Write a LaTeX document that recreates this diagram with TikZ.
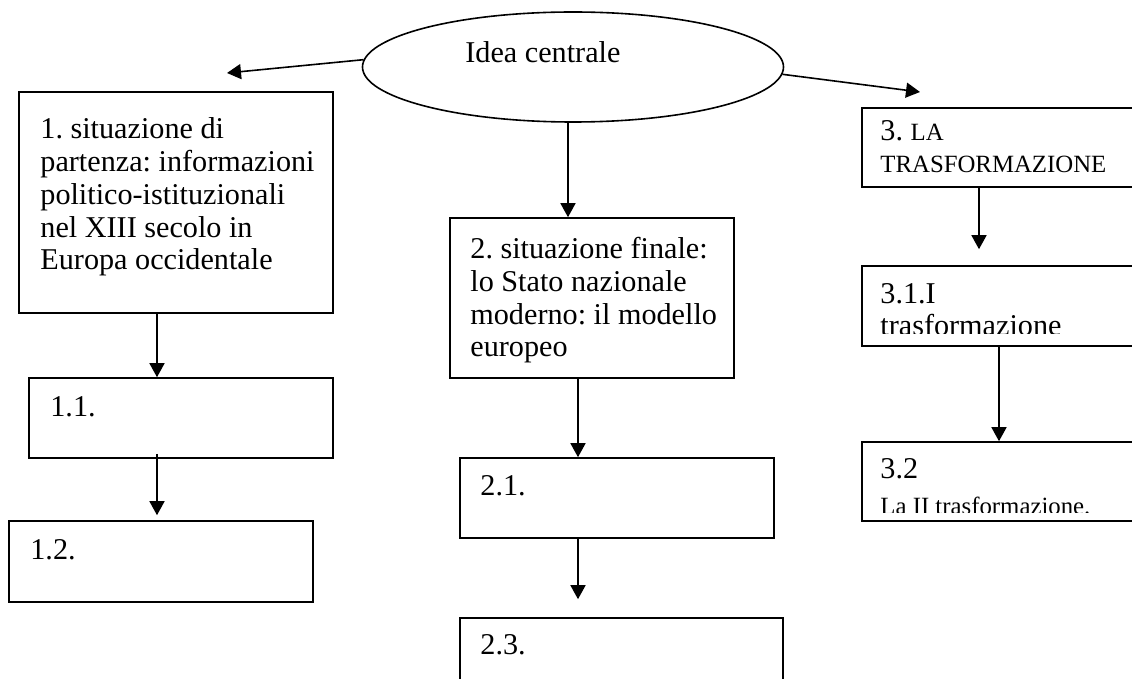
\documentclass[tikz,border=0pt]{standalone}
\usepackage{fontspec}
\setmainfont{Liberation Serif}
\usetikzlibrary{arrows.meta,shapes.geometric}
\frenchspacing

\tikzset{
  box/.style={draw, line width=0.8pt, inner sep=0pt},
  txt/.style={anchor=base west, align=left, inner sep=0pt, font=\fontsize{15.1}{16.4}\selectfont},
  arr/.style={line width=0.8pt, -{Triangle[length=7pt,width=7.5pt]}}
}
\newcommand{\smalltxt}{\fontsize{12.4}{15}\selectfont}

\begin{document}
\begin{tikzpicture}[x=0.5pt,y=-0.5pt]

\clip (0,0) rectangle (1132,679);
\fill[white] (0,0) rectangle (1132,679);

% idea centrale
\node[box, ellipse, minimum width=210.5pt, minimum height=55pt] (idea) at (573,67) {};
\node[txt] (ideat) at (465,63) {Idea centrale};

\coordinate (sx) at (227,73);
\coordinate (dx) at (920,92);

% colonna 1
\node[box, minimum width=157pt, minimum height=110.5pt] (s1) at (176,202.5) {};
\node[box, minimum width=152pt, minimum height=40pt] (s11) at (181,418) {};
\node[box, minimum width=152pt, minimum height=40.5pt] (s12) at (161,561.5) {};

\node[txt] (s1t) at (40,270) {1. situazione di\\partenza: informazioni\\politico-istituzionali\\nel XIII secolo in\\Europa occidentale};
\node[txt] (s11t) at (50,417) {1.1.};
\node[txt] (s12t) at (30,560) {1.2.};

% colonna 2
\node[box, minimum width=142pt, minimum height=80pt] (s2) at (592,298) {};
\node[box, minimum width=157pt, minimum height=40pt] (s21) at (617,498) {};
\node[box, minimum width=161.5pt, minimum height=40pt] (s23) at (621.5,658) {};

\node[txt] (s2t) at (470,357) {2. situazione finale:\\lo Stato nazionale\\moderno: il modello\\europeo};
\node[txt] (s21t) at (480,496) {2.1.};
\node[txt] (s23t) at (480,655) {2.3.};

% colonna 3
\node[box, minimum width=157pt, minimum height=39.5pt] (s3) at (1019,147.5) {};
\node[box, minimum width=157pt, minimum height=40pt] (s31) at (1019,306) {};
\node[box, minimum width=157pt, minimum height=39.5pt] (s32) at (1019,481.5) {};

\node[txt] (s3t) at (880,173) {3. {\smalltxt LA}\\{\smalltxt TRASFORMAZIONE}};
\begin{scope}
\clip (862,266) rectangle (1132,334);
\node[txt] (s31t) at (880,336) {3.1.I\\trasformazione};
\end{scope}
\begin{scope}
\clip (862,442) rectangle (1132,513);
\node[txt] (s32t) at (880,515) {3.2\\[2pt]{\smalltxt La II trasformazione.}};
\end{scope}

% frecce
\draw[arr] (idea.178) -- (sx);
\draw[arr] (idea.-2) -- (dx);
\draw[arr] ([xshift=-2.5pt]idea.south) -- ([xshift=-12pt]s2.north);

\draw[arr] ([xshift=-9.5pt]s1.south) -- ([xshift=-12pt]s11.north);
\draw[arr] ([xshift=-12pt,yshift=2.5pt]s11.south) -- ([xshift=-2pt,yshift=2.5pt]s12.north);

\draw[arr] ([xshift=-7pt]s2.south) -- ([xshift=-19.5pt]s21.north);
\draw[arr, shorten >=9pt] ([xshift=-19.5pt]s21.south) -- ([xshift=-21.75pt]s23.north);

\draw[arr, shorten >=8pt] ([xshift=-20pt]s3.south) -- ([xshift=-20pt]s31.north);
\draw[arr] ([xshift=-10pt]s31.south) -- ([xshift=-10pt]s32.north);

\end{tikzpicture}
\end{document}
